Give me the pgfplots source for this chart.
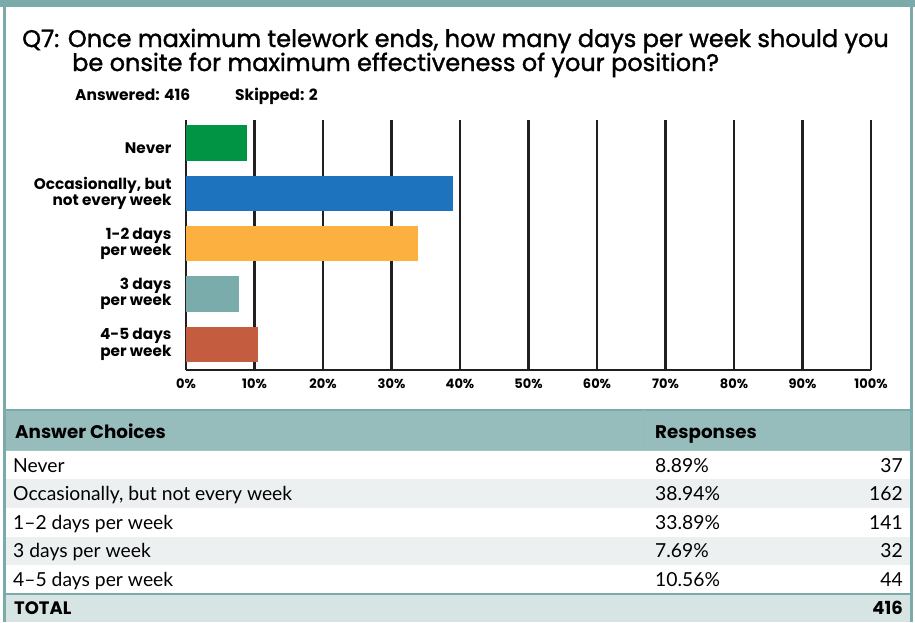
\documentclass[border=0pt]{standalone}
\usepackage{fontspec}
\usepackage{pgfplots}
\pgfplotsset{compat=1.18}
\setmainfont{Poppins}
\newfontfamily\lato{Lato}
\newfontfamily\titlefont{Poppins}[FakeBold=1.4]
\definecolor{band}{RGB}{122,170,170}
\definecolor{hdr}{RGB}{150,188,188}
\definecolor{totf}{RGB}{214,228,228}
\definecolor{grayrow}{RGB}{236,240,240}
\definecolor{cgreen}{RGB}{0,148,68}
\definecolor{cblue}{RGB}{30,115,190}
\definecolor{corange}{RGB}{251,176,64}
\definecolor{cteal}{RGB}{122,172,172}
\definecolor{cred}{RGB}{196,92,63}
\definecolor{gridc}{RGB}{35,31,32}
\begin{document}
\begin{tikzpicture}
\useasboundingbox (0pt,0pt) rectangle (915pt,-622pt);
% frame
\fill[white] (0pt,0pt) rectangle (915pt,-622pt);
\fill[band] (0pt,0pt) rectangle (915pt,-7pt);
% table backgrounds
\fill[hdr] (5pt,-410pt) rectangle (911pt,-450pt);
\fill[grayrow] (5pt,-479pt) rectangle (911pt,-508pt);
\fill[grayrow] (5pt,-537pt) rectangle (911pt,-565pt);
\fill[totf] (5pt,-594pt) rectangle (911pt,-622pt);
\draw[band, line width=2pt] (5pt,-410pt) -- (911pt,-410pt);
\draw[band!70, line width=1pt] (5pt,-450pt) -- (911pt,-450pt);
\draw[band, line width=2pt] (5pt,-594pt) -- (911pt,-594pt);
\draw[band!80, line width=1.5pt] (644pt,-410pt) -- (644pt,-450pt);
\draw[band, line width=2.5pt] (4.5pt,0pt) -- (4.5pt,-622pt);
\draw[band, line width=2.5pt] (911.5pt,0pt) -- (911.5pt,-622pt);
% title
\node[anchor=base west, inner sep=0pt, font=\titlefont\fontsize{24}{25}\selectfont] at (22pt,-47pt) {Q7: Once maximum telework ends, how many days per week should you};
\node[anchor=base west, inner sep=0pt, font=\titlefont\fontsize{24}{25}\selectfont] at (72pt,-71pt) {be onsite for maximum effectiveness of your position?};
\node[anchor=base west, inner sep=0pt, font=\fontsize{15.5}{16}\selectfont\bfseries] at (75pt,-100pt) {Answered: 416};
\node[anchor=base west, inner sep=0pt, font=\fontsize{15.5}{16}\selectfont\bfseries] at (235pt,-100pt) {Skipped: 2};
% table text
\begin{scope}[every node/.style={inner sep=0pt}]
\node[anchor=base west, font=\fontsize{18.3}{19}\selectfont\bfseries] at (15pt,-438pt) {Answer Choices};
\node[anchor=base west, font=\fontsize{18.3}{19}\selectfont\bfseries] at (655pt,-438pt) {Responses};
\foreach \t/\p/\c/\y in {Never/8.89\%/37/472,
  {Occasionally, but not every week}/38.94\%/162/500.5,
  1–2 days per week/33.89\%/141/529,
  3 days per week/7.69\%/32/557,
  4–5 days per week/10.56\%/44/586}{
  \node[anchor=base west, font=\lato\fontsize{19.3}{20}\selectfont] at (13pt,-\y pt) {\t};
  \node[anchor=base west, font=\lato\fontsize{19.3}{20}\selectfont] at (655pt,-\y pt) {\p};
  \node[anchor=base east, font=\lato\fontsize{19.3}{20}\selectfont] at (903pt,-\y pt) {\c};
}
\node[anchor=base west, font=\fontsize{18}{19}\selectfont\bfseries] at (14pt,-614.5pt) {TOTAL};
\node[anchor=base east, font=\fontsize{18}{19}\selectfont\bfseries] at (903pt,-614.5pt) {416};
\end{scope}
\begin{axis}[
  at={(186pt,-370pt)}, anchor=south west,
  scale only axis, width=685pt, height=250pt,
  xmin=0, xmax=100, ymin=-0.457, ymax=4.51,
  y dir=reverse,
  axis x line*=bottom, axis y line*=left,
  axis line style={line width=2.6pt, color=gridc, -},
  xmajorgrids, grid style={line width=2.4pt, color=gridc},
  major tick length=0pt,
  xtick={0,10,...,100},
  xticklabels={0\%,10\%,20\%,30\%,40\%,50\%,60\%,70\%,80\%,90\%,100\%},
  xticklabel style={font=\fontsize{13}{13}\selectfont\bfseries, yshift=-5pt},
  ytick={0,1,2,3,4},
  yticklabels={{\raisebox{-10.5pt}[0pt][0pt]{Never}},{Occasionally, but\\not every week},{1-2 days\\per week},{3 days\\per week},{4-5 days\\per week}},
  yticklabel style={font=\fontsize{15.3}{16.5}\selectfont\bfseries, align=right, xshift=-11pt},
  clip=false,
]
\addplot[xbar, bar shift=0pt, bar width=0.706, fill=cgreen, draw=none] coordinates {(8.89,0)};
\addplot[xbar, bar shift=0pt, bar width=0.706, fill=cblue, draw=none] coordinates {(38.94,1)};
\addplot[xbar, bar shift=0pt, bar width=0.706, fill=corange, draw=none] coordinates {(33.89,2)};
\addplot[xbar, bar shift=0pt, bar width=0.706, fill=cteal, draw=none] coordinates {(7.69,3)};
\addplot[xbar, bar shift=0pt, bar width=0.706, fill=cred, draw=none] coordinates {(10.56,4)};
\end{axis}
\end{tikzpicture}
\end{document}
